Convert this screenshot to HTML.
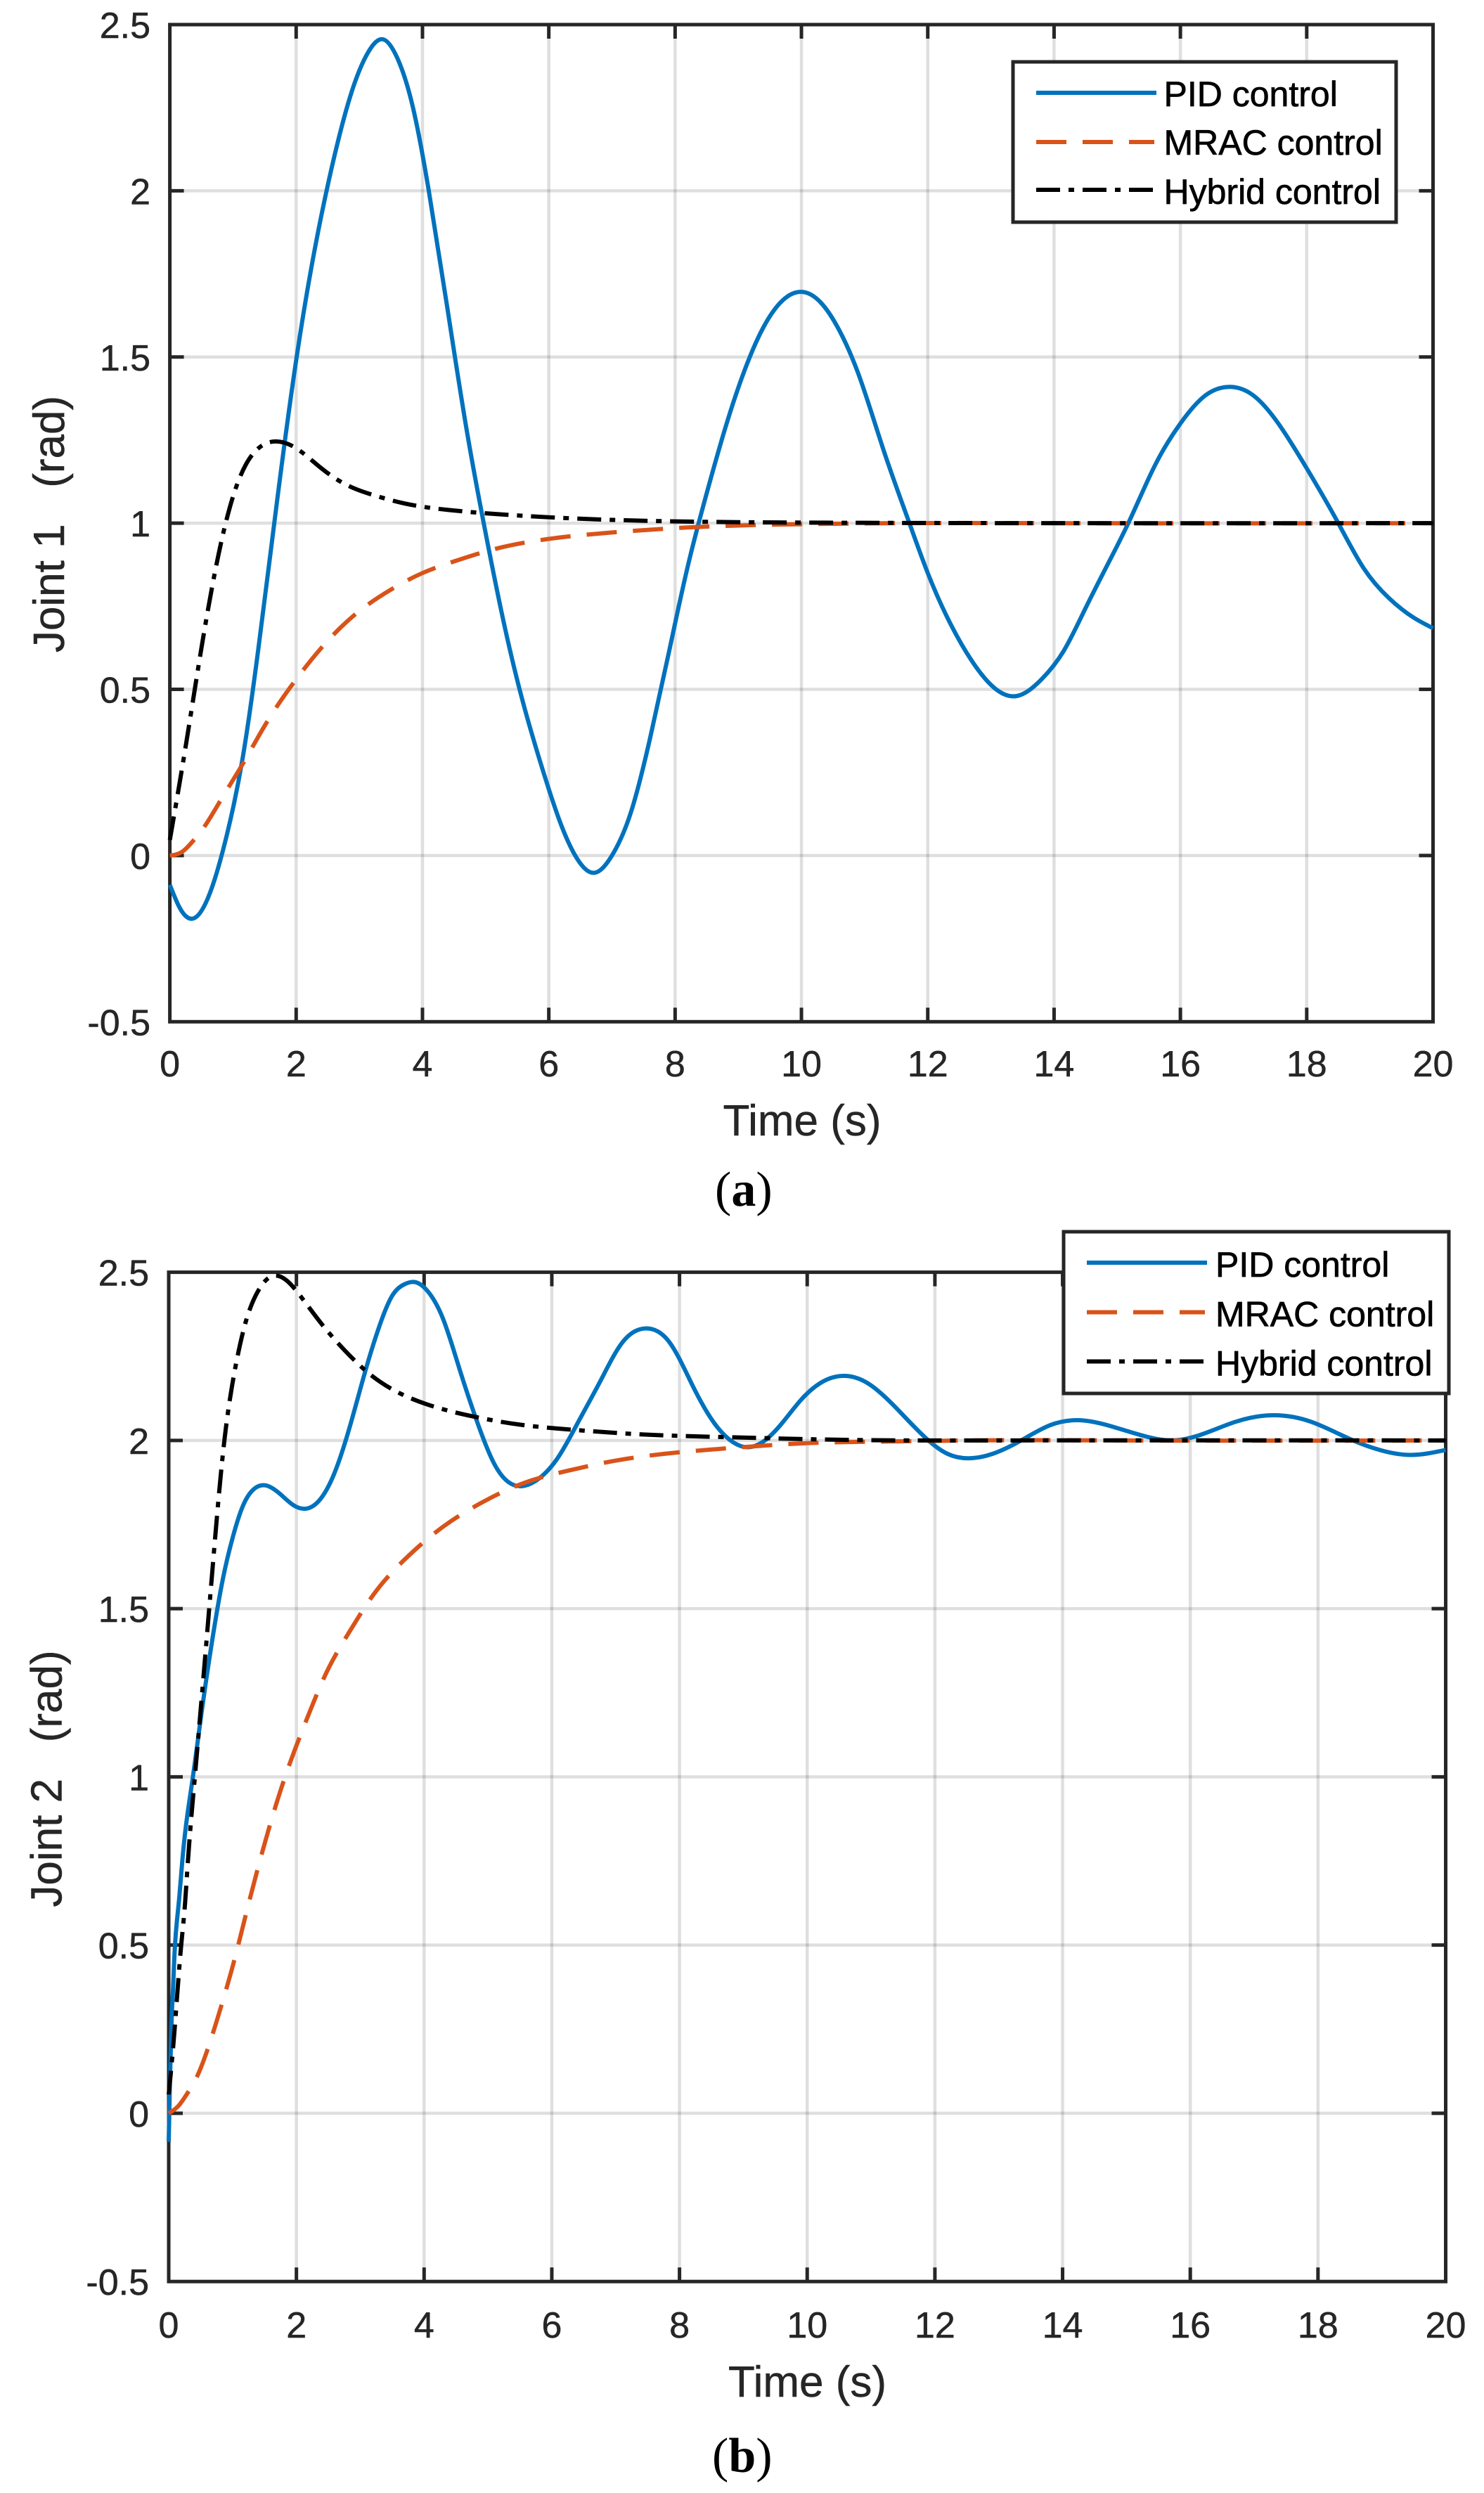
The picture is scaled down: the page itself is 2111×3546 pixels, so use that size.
<!DOCTYPE html>
<html lang="en">
<head>
<meta charset="utf-8">
<title>Joint response comparison</title>
<style>
html,body{margin:0;padding:0;background:#fff;}
svg{display:block;}
text{font-family:"Liberation Sans",Arial,sans-serif;}
.tick{font-size:52px;fill:#262626;stroke:#262626;stroke-width:0.5px;}
.label{font-size:62px;fill:#262626;stroke:#262626;stroke-width:0.5px;white-space:pre;}
.leg{font-size:50px;fill:#000;stroke:#000;stroke-width:0.7px;}
.cap{font-family:"Liberation Serif","Times New Roman",serif;font-size:70px;fill:#000;}
</style>
</head>
<body>
<svg id="fig" xmlns="http://www.w3.org/2000/svg" width="2111" height="3546" viewBox="0 0 2111 3546">
  <rect x="0" y="0" width="2111" height="3546" fill="#fff"/>
  <g id="panelA"></g>
  <g id="panelB"></g>

  <text class="label" transform="translate(91,745.5) rotate(-90)" text-anchor="middle" xml:space="preserve">Joint 1   (rad)</text>
  <text class="label" x="1141" y="1615" text-anchor="middle">Time (s)</text>
  <text class="cap" x="1017" y="1715">(<tspan font-weight="bold">a</tspan>)</text>

  <text class="label" transform="translate(87.5,2530) rotate(-90)" text-anchor="middle" xml:space="preserve">Joint 2   (rad)</text>
  <text class="label" x="1148.5" y="3409" text-anchor="middle">Time (s)</text>
  <text class="cap" x="1013" y="3516">(<tspan font-weight="bold">b</tspan>)</text>

  <g>
    <rect x="1441" y="88" width="545" height="228" fill="#fff" stroke="#262626" stroke-width="5"/>
    <line x1="1474" x2="1645" y1="132" y2="132" stroke="#0072BD" stroke-width="6"/>
    <text class="leg" x="1655.5" y="151">PID control</text>
    <line x1="1474" x2="1642" y1="202" y2="202" stroke="#D95319" stroke-width="6" stroke-dasharray="43 23"/>
    <text class="leg" x="1655.5" y="220">MRAC control</text>
    <line x1="1474" x2="1642" y1="270" y2="270" stroke="#000" stroke-width="6" stroke-dasharray="34 12 8 12"/>
    <text class="leg" x="1655.5" y="290">Hybrid control</text>
  </g>

  <g>
    <rect x="1513" y="1752" width="548" height="230" fill="#fff" stroke="#262626" stroke-width="5"/>
    <line x1="1546" x2="1717" y1="1796" y2="1796" stroke="#0072BD" stroke-width="6"/>
    <text class="leg" x="1729" y="1816">PID control</text>
    <line x1="1546" x2="1714" y1="1866.5" y2="1866.5" stroke="#D95319" stroke-width="6" stroke-dasharray="43 23"/>
    <text class="leg" x="1729" y="1886.5">MRAC control</text>
    <line x1="1546" x2="1714" y1="1936.5" y2="1936.5" stroke="#000" stroke-width="6" stroke-dasharray="34 12 8 12"/>
    <text class="leg" x="1729" y="1956.5">Hybrid control</text>
  </g>
</svg>

<script>
// Shared tick labels
const xTickValues = [0, 2, 4, 6, 8, 10, 12, 14, 16, 18, 20];
const yTickValues = [-0.5, 0, 0.5, 1, 1.5, 2, 2.5];

// Panel (a) - Joint 1
const timeA_pid = [0,0.15,0.39,0.65,0.9,1.15,1.4,1.7,2,2.3,2.6,2.9,3.15,3.37,3.6,3.85,4.1,4.4,4.7,5,5.3,5.6,5.9,6.2,6.45,6.72,7,7.3,7.6,7.9,8.2,8.5,8.8,9.1,9.4,9.7,10,10.3,10.6,10.9,11.3,11.7,12,12.3,12.7,13.05,13.41,13.8,14.15,14.5,14.9,15.2,15.6,16,16.4,16.76,17.15,17.55,18,18.5,18.9,19.3,19.7,20];
const jointA_pid = [-0.088,-0.155,-0.188,-0.105,0.06,0.29,0.62,1.07,1.49,1.83,2.1,2.31,2.42,2.456,2.4,2.25,2,1.64,1.28,0.97,0.69,0.455,0.26,0.09,-0.01,-0.052,0,0.13,0.35,0.61,0.87,1.09,1.29,1.46,1.59,1.67,1.696,1.665,1.58,1.45,1.22,1.005,0.85,0.72,0.585,0.505,0.48,0.53,0.615,0.745,0.895,1.01,1.175,1.3,1.385,1.41,1.385,1.3,1.165,1,0.865,0.775,0.715,0.684];

const timeA_mrac = [0,0.2,0.35,0.54,0.8,1.18,1.5,1.96,2.4,2.9,3.5,4,4.5,5.1,5.9,7,8.2,9,10,11.5,14,20];
const jointA_mrac = [0,0.012,0.04,0.085,0.165,0.284,0.39,0.52,0.625,0.72,0.8,0.85,0.885,0.92,0.95,0.972,0.987,0.993,0.997,1,1,1];

const timeA_hybrid = [0,0.24,0.5,0.77,1,1.2,1.4,1.665,1.96,2.4,2.8,3.25,3.7,4.4,5.2,6.3,7.8,9,11,14,20];
const jointA_hybrid = [0.047,0.316,0.624,0.905,1.08,1.175,1.225,1.246,1.23,1.165,1.115,1.083,1.06,1.04,1.027,1.015,1.006,1.003,1.001,1,1];

// Panel (b) - Joint 2
const timeB_pid = [0,0.018,0.037,0.048,0.066,0.081,0.099,0.128,0.165,0.21,0.36,0.51,0.66,0.85,1,1.15,1.32,1.527,1.75,1.95,2.14,2.35,2.6,2.85,3.1,3.3,3.5,3.7,3.85,4.05,4.3,4.55,4.85,5.1,5.33,5.53,5.8,6.1,6.4,6.77,7.1,7.47,7.85,8.2,8.55,8.8,9.05,9.3,9.6,9.9,10.2,10.57,10.95,11.35,11.87,12.2,12.53,12.9,13.35,13.8,14.28,14.8,15.3,15.68,16.1,16.7,17.3,17.9,18.55,19,19.45,20];
const jointB_pid = [-0.085,0.084,0.223,0.292,0.362,0.432,0.501,0.571,0.641,0.744,0.975,1.185,1.38,1.59,1.71,1.8,1.853,1.866,1.84,1.808,1.797,1.82,1.905,2.05,2.22,2.34,2.43,2.465,2.471,2.445,2.36,2.215,2.045,1.93,1.875,1.864,1.887,1.95,2.05,2.18,2.29,2.333,2.29,2.165,2.05,2,1.98,1.995,2.05,2.12,2.17,2.192,2.17,2.105,2.005,1.96,1.947,1.96,2,2.045,2.06,2.04,2.012,2,2.013,2.055,2.075,2.055,2,1.97,1.957,1.972];

const timeB_mrac = [0,0.147,0.294,0.44,0.605,0.826,1.03,1.21,1.47,1.81,2.18,2.47,2.81,3.2,3.7,4.25,4.9,5.5,6.25,7,7.75,8.5,9.2,10,11.3,12.5,15,20];
const jointB_mrac = [0,0.021,0.06,0.108,0.188,0.321,0.457,0.592,0.78,0.993,1.18,1.31,1.425,1.54,1.647,1.737,1.815,1.869,1.91,1.94,1.96,1.973,1.983,1.992,1.997,2,2,2];

const timeB_hybrid = [0,0.09,0.165,0.2,0.257,0.29,0.4,0.55,0.7,0.86,0.99,1.1,1.21,1.36,1.51,1.66,1.85,2.1,2.4,2.77,3.15,3.6,4.05,4.8,5.5,6.25,7.4,8.7,10.5,13,20];
const jointB_hybrid = [0.056,0.244,0.432,0.509,0.627,0.72,0.98,1.31,1.65,1.98,2.16,2.27,2.355,2.43,2.474,2.49,2.475,2.42,2.345,2.265,2.197,2.142,2.107,2.07,2.047,2.033,2.018,2.01,2.002,2,2];

const NS = 'http://www.w3.org/2000/svg';
const AXIS_COLOR = '#262626';

function makeLine(parent, x1, y1, x2, y2, color, width, opacity) {
  const el = document.createElementNS(NS, 'line');
  el.setAttribute('x1', x1);
  el.setAttribute('y1', y1);
  el.setAttribute('x2', x2);
  el.setAttribute('y2', y2);
  el.setAttribute('stroke', color);
  el.setAttribute('stroke-width', width);
  if (opacity) el.setAttribute('stroke-opacity', opacity);
  parent.appendChild(el);
  return el;
}

// Natural cubic spline through the given points, emitted as Bezier segments.
function splinePath(xs, ys) {
  const n = xs.length;
  const h = [];
  for (let i = 0; i < n - 1; i++) h.push(xs[i + 1] - xs[i]);
  const a = new Array(n).fill(0), b = new Array(n).fill(1), c = new Array(n).fill(0), r = new Array(n).fill(0);
  for (let i = 1; i < n - 1; i++) {
    a[i] = h[i - 1];
    b[i] = 2 * (h[i - 1] + h[i]);
    c[i] = h[i];
    r[i] = 6 * ((ys[i + 1] - ys[i]) / h[i] - (ys[i] - ys[i - 1]) / h[i - 1]);
  }
  for (let i = 1; i < n; i++) {
    const m = a[i] / b[i - 1];
    b[i] -= m * c[i - 1];
    r[i] -= m * r[i - 1];
  }
  const M = new Array(n).fill(0);
  M[n - 1] = r[n - 1] / b[n - 1];
  for (let i = n - 2; i >= 0; i--) M[i] = (r[i] - c[i] * M[i + 1]) / b[i];
  let d = 'M' + xs[0].toFixed(2) + ' ' + ys[0].toFixed(2);
  for (let i = 0; i < n - 1; i++) {
    const s0 = (ys[i + 1] - ys[i]) / h[i] - h[i] * (2 * M[i] + M[i + 1]) / 6;
    const s1 = (ys[i + 1] - ys[i]) / h[i] + h[i] * (M[i] + 2 * M[i + 1]) / 6;
    const k = h[i] / 3;
    d += ' C' + (xs[i] + k).toFixed(2) + ' ' + (ys[i] + s0 * k).toFixed(2) +
         ' ' + (xs[i + 1] - k).toFixed(2) + ' ' + (ys[i + 1] - s1 * k).toFixed(2) +
         ' ' + xs[i + 1].toFixed(2) + ' ' + ys[i + 1].toFixed(2);
  }
  return d;
}

function drawPanel(cfg) {
  const root = document.getElementById(cfg.id);
  const sx = t => cfg.left + (t - 0) / 20 * (cfg.right - cfg.left);
  const sy = v => cfg.bottom - (v + 0.5) / 3 * (cfg.bottom - cfg.top);

  const gridGroup = document.createElementNS(NS, 'g');
  
  
  root.appendChild(gridGroup);
  xTickValues.slice(1, -1).forEach(t => {
    const g = makeLine(gridGroup, sx(t), cfg.top, sx(t), cfg.bottom, AXIS_COLOR, 4.5, 0.15);
    
    
  });
  yTickValues.slice(1, -1).forEach(v => {
    const g = makeLine(gridGroup, cfg.left, sy(v), cfg.right, sy(v), AXIS_COLOR, 4.5, 0.15);
    
    
  });

  const clip = document.createElementNS(NS, 'clipPath');
  clip.setAttribute('id', cfg.id + 'Clip');
  const clipRect = document.createElementNS(NS, 'rect');
  clipRect.setAttribute('x', cfg.left - 4);
  clipRect.setAttribute('y', cfg.top - 4);
  clipRect.setAttribute('width', cfg.right - cfg.left + 8);
  clipRect.setAttribute('height', cfg.bottom - cfg.top + 8);
  clip.appendChild(clipRect);
  root.appendChild(clip);

  const axes = document.createElementNS(NS, 'g');
  
  
  root.appendChild(axes);

  const box = document.createElementNS(NS, 'rect');
  box.setAttribute('x', cfg.left);
  box.setAttribute('y', cfg.top);
  box.setAttribute('width', cfg.right - cfg.left);
  box.setAttribute('height', cfg.bottom - cfg.top);
  box.setAttribute('fill', 'none');
  box.setAttribute('stroke', AXIS_COLOR);
  box.setAttribute('stroke-width', 5);
  
  
  axes.appendChild(box);

  const TICK = 20;
  xTickValues.forEach(t => {
    if (t !== 0 && t !== 20) {
      const lowTick = makeLine(axes, sx(t), cfg.bottom, sx(t), cfg.bottom - TICK, AXIS_COLOR, 5);
      
      
      const highTick = makeLine(axes, sx(t), cfg.top, sx(t), cfg.top + TICK, AXIS_COLOR, 5);
      
      
    }
    const label = document.createElementNS(NS, 'text');
    label.setAttribute('class', 'tick');
    label.setAttribute('x', sx(t));
    label.setAttribute('y', cfg.xLabelY);
    label.setAttribute('text-anchor', 'middle');
    
    
    label.textContent = String(t);
    axes.appendChild(label);
  });
  yTickValues.forEach(v => {
    if (v !== -0.5 && v !== 2.5) {
      const leftTick = makeLine(axes, cfg.left, sy(v), cfg.left + TICK, sy(v), AXIS_COLOR, 5);
      
      
      const rightTick = makeLine(axes, cfg.right, sy(v), cfg.right - TICK, sy(v), AXIS_COLOR, 5);
      
      
    }
    const label = document.createElementNS(NS, 'text');
    label.setAttribute('class', 'tick');
    label.setAttribute('x', cfg.yLabelX);
    label.setAttribute('y', sy(v) + 19);
    label.setAttribute('text-anchor', 'end');
    
    
    label.textContent = String(v);
    axes.appendChild(label);
  });

  const seriesGroup = document.createElementNS(NS, 'g');
  seriesGroup.setAttribute('clip-path', 'url(#' + cfg.id + 'Clip)');
  
  
  root.appendChild(seriesGroup);
  cfg.series.forEach(s => {
    const path = document.createElementNS(NS, 'path');
    path.setAttribute('d', splinePath(s.t.map(sx), s.v.map(sy)));
    path.setAttribute('fill', 'none');
    path.setAttribute('stroke', s.color);
    path.setAttribute('stroke-width', 6);
    if (s.dash) path.setAttribute('stroke-dasharray', s.dash);
    
    
    seriesGroup.appendChild(path);
  });
}

const BLUE = '#0072BD';
const ORANGE = '#D95319';
const BLACK = '#000000';
const DASH = '43 23';
const DASHDOT = '34 12 8 12';

drawPanel({
  id: 'panelA', prefix: 'panel-a',
  left: 241.6, right: 2038.5, top: 35, bottom: 1453.3,
  xLabelY: 1531, yLabelX: 214,
  series: [
    {name: 'pid', t: timeA_pid, v: jointA_pid, color: BLUE},
    {name: 'mrac', t: timeA_mrac, v: jointA_mrac, color: ORANGE, dash: DASH},
    {name: 'hybrid', t: timeA_hybrid, v: jointA_hybrid, color: BLACK, dash: DASHDOT}
  ]
});

drawPanel({
  id: 'panelB', prefix: 'panel-b',
  left: 240, right: 2056.5, top: 1809.6, bottom: 3245.2,
  xLabelY: 3325, yLabelX: 212,
  series: [
    {name: 'pid', t: timeB_pid, v: jointB_pid, color: BLUE},
    {name: 'mrac', t: timeB_mrac, v: jointB_mrac, color: ORANGE, dash: DASH},
    {name: 'hybrid', t: timeB_hybrid, v: jointB_hybrid, color: BLACK, dash: DASHDOT}
  ]
});
</script>
</body>
</html>
